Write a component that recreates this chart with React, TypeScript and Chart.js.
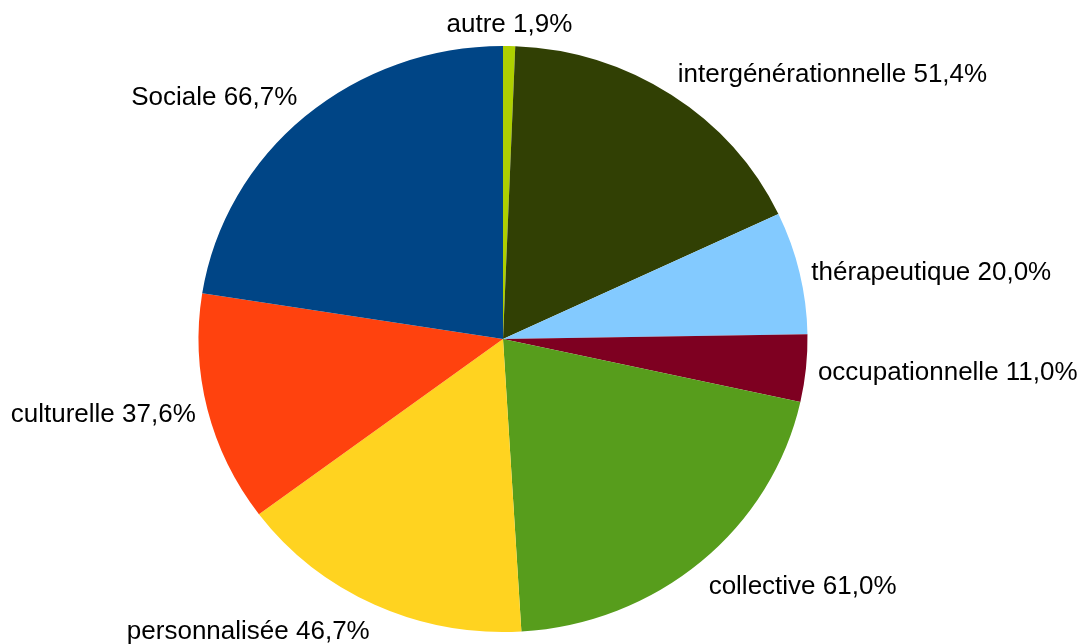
import React, { useEffect, useRef } from "react";
import { Chart, registerables } from "chart.js";

Chart.register(...registerables);

// Slices listed clockwise from 12 o'clock
const categories = [
  "autre",
  "intergénérationnelle",
  "thérapeutique",
  "occupationnelle",
  "collective",
  "personnalisée",
  "culturelle",
  "Sociale",
];
const values = [1.9, 51.4, 20.0, 11.0, 61.0, 46.7, 37.6, 66.7];
const sliceColors = [
  "#aecf00",
  "#314004",
  "#83caff",
  "#7e0021",
  "#579d1c",
  "#ffd320",
  "#ff420e",
  "#004586",
];

const STRETCH_X = 304.5 / 293;
const LABEL_GAP = 12;
const FONT = '26px "Liberation Sans", Arial, sans-serif';

const fmt = (v: number) => v.toFixed(1).replace(".", ",") + "%";

const stretchPlugin = {
  id: "stretchPie",
  beforeDatasetsDraw(chart: any) {
    const arc = chart.getDatasetMeta(0).data[0];
    if (!arc) return;
    const { x, y } = arc;
    const ctx = chart.ctx;
    ctx.save();
    ctx.translate(x, y);
    ctx.scale(STRETCH_X, 1);
    ctx.translate(-x, -y);
  },
  afterDatasetsDraw(chart: any) {
    chart.ctx.restore();
  },
};

const labelPlugin = {
  id: "pieLabels",
  afterDraw(chart: any) {
    const meta = chart.getDatasetMeta(0);
    const ctx = chart.ctx;
    ctx.save();
    ctx.font = FONT;
    ctx.fillStyle = "#000000";
    ctx.textBaseline = "alphabetic";
    meta.data.forEach((arc: any, i: number) => {
      const { x, y, startAngle, endAngle, outerRadius } = arc.getProps(
        ["x", "y", "startAngle", "endAngle", "outerRadius"],
        true
      );
      const mid = (startAngle + endAngle) / 2;
      const c = Math.cos(mid);
      const s = Math.sin(mid);
      const ax = x + (outerRadius * STRETCH_X + LABEL_GAP) * c;
      const ay = y + (outerRadius + LABEL_GAP) * s;
      const text = categories[i] + " " + fmt(values[i]);
      let align: CanvasTextAlign;
      let by: number;
      if (Math.abs(c) < 0.15) {
        align = "center";
        by = s < 0 ? ay - 2.5 : ay + 23;
      } else if (Math.abs(c) > 0.9) {
        align = c > 0 ? "left" : "right";
        by = ay + 10;
      } else {
        align = c > 0 ? "left" : "right";
        by = s < 0 ? ay - 2.5 : ay + 23;
      }
      ctx.textAlign = align;
      ctx.fillText(text, ax, by);
    });
    ctx.restore();
  },
};

export default function App() {
  const canvasRef = useRef<HTMLCanvasElement | null>(null);

  useEffect(() => {
    const canvas = canvasRef.current;
    if (!canvas) return;
    const chart = new Chart(canvas, {
      type: "pie",
      data: {
        labels: categories,
        datasets: [
          {
            data: values,
            backgroundColor: sliceColors,
            borderWidth: 0,
          },
        ],
      },
      options: {
        responsive: false,
        animation: false,
        devicePixelRatio: 1,
        layout: {
          padding: { top: 46, bottom: 12, left: 210, right: 290 },
        },
        plugins: {
          legend: { display: false },
          tooltip: { enabled: false },
        },
      },
      plugins: [stretchPlugin, labelPlugin],
    });
    return () => chart.destroy();
  }, []);

  return (
    <div
      style={{
        position: "fixed",
        left: 0,
        top: 0,
        width: 1086,
        height: 644,
        background: "#ffffff",
      }}
    >
      <canvas ref={canvasRef} width={1086} height={644} />
    </div>
  );
}
